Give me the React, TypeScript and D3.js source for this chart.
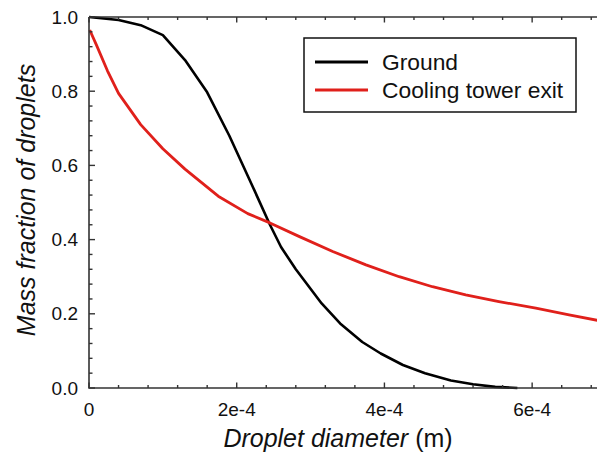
import React, { useEffect, useRef } from 'react';
import * as d3 from 'd3';

// droplet diameter in units of 1e-4 m
const groundX = [0, 0.4, 0.7, 1.0, 1.3, 1.6, 1.9, 2.2, 2.45, 2.6, 2.8, 3.15, 3.4, 3.7, 3.95, 4.25, 4.55, 4.9, 5.2, 5.5, 5.8];
const groundY = [1.0, 0.992, 0.978, 0.951, 0.884, 0.797, 0.68, 0.55, 0.44, 0.38, 0.32, 0.228, 0.174, 0.124, 0.093, 0.062, 0.04, 0.02, 0.01, 0.003, 0.0];

const towerX = [0.01, 0.1, 0.25, 0.4, 0.7, 1.0, 1.3, 1.75, 2.15, 2.45, 2.85, 3.3, 3.75, 4.2, 4.65, 5.1, 5.55, 6.05, 6.5, 7.0];
const towerY = [0.965, 0.925, 0.855, 0.794, 0.71, 0.645, 0.59, 0.517, 0.47, 0.445, 0.408, 0.368, 0.332, 0.3, 0.273, 0.251, 0.233, 0.215, 0.197, 0.178];

const xTicks = [0, 2e-4, 4e-4, 6e-4];
const xTickLabels = ['0', '2e-4', '4e-4', '6e-4'];
const yTicks = [0, 0.2, 0.4, 0.6, 0.8, 1.0];
const seriesNames = ['Ground', 'Cooling tower exit'];
const seriesColors = ['#000000', '#e0201b'];

const W = 597, H = 455;

export default function App() {
  const ref = useRef<SVGSVGElement>(null);

  useEffect(() => {
    const svg = d3.select(ref.current);
    svg.selectAll('*').remove();

    const left = 89, right = 606, top = 17, bottom = 388;
    const x = d3.scaleLinear().domain([0, 7e-4]).range([left, right]);
    const y = d3.scaleLinear().domain([0, 1]).range([bottom, top]);
    const font = 'Arial, "Liberation Sans", sans-serif';

    const g = svg.append('g');

    // curves
    const line = d3.line<[number, number]>()
      .x(d => x(d[0] * 1e-4))
      .y(d => y(d[1]));
    const series: [number, number][][] = [
      groundX.map((v, i) => [v, groundY[i]]),
      towerX.map((v, i) => [v, towerY[i]]),
    ];
    series.forEach((s, i) => {
      g.append('path')
        .attr('d', line(s))
        .attr('fill', 'none')
        .attr('stroke', seriesColors[i])
        .attr('stroke-width', i === 0 ? 2.6 : 2.8)
        .attr('stroke-linejoin', 'round');
    });

    // frame
    const axisColor = '#333';
    g.append('path')
      .attr('d', `M${left},${top}V${bottom}H${right}M${left},${top}H${right}`)
      .attr('fill', 'none')
      .attr('stroke', axisColor)
      .attr('stroke-width', 1.6);

    // x ticks (bottom and top, pointing inward)
    const xMinor = d3.range(0, 7.01e-4, 0.4e-4);
    xMinor.forEach(v => {
      const major = xTicks.some(t => Math.abs(t - v) < 1e-9);
      const len = major ? 5.5 : 3;
      g.append('line').attr('x1', x(v)).attr('x2', x(v))
        .attr('y1', bottom).attr('y2', bottom - len)
        .attr('stroke', axisColor).attr('stroke-width', 1.4);
      g.append('line').attr('x1', x(v)).attr('x2', x(v))
        .attr('y1', top).attr('y2', top + len)
        .attr('stroke', axisColor).attr('stroke-width', 1.4);
    });
    xTicks.forEach((v, i) => {
      g.append('text')
        .attr('x', x(v)).attr('y', 416)
        .attr('text-anchor', 'middle')
        .attr('font-family', font).attr('font-size', 19)
        .attr('fill', '#111')
        .text(xTickLabels[i]);
    });

    // y ticks
    const yMinor = d3.range(0, 1.001, 0.04);
    yMinor.forEach(v => {
      const major = yTicks.some(t => Math.abs(t - v) < 1e-6);
      const len = major ? 6 : 3.5;
      g.append('line').attr('x1', left).attr('x2', left + len)
        .attr('y1', y(v)).attr('y2', y(v))
        .attr('stroke', axisColor).attr('stroke-width', 1.4);
    });
    yTicks.forEach(v => {
      g.append('text')
        .attr('x', 78).attr('y', y(v))
        .attr('dy', '0.35em')
        .attr('text-anchor', 'end')
        .attr('font-family', font).attr('font-size', 19)
        .attr('fill', '#111')
        .text(v.toFixed(1));
    });

    // axis titles
    const xt = g.append('text')
      .attr('x', 338).attr('y', 447)
      .attr('text-anchor', 'middle')
      .attr('font-family', font).attr('font-size', 25)
      .attr('fill', '#111');
    xt.append('tspan').attr('font-style', 'italic').text('Droplet diameter');
    xt.append('tspan').text(' (m)');

    g.append('text')
      .attr('transform', `translate(35,200) rotate(-90)`)
      .attr('text-anchor', 'middle')
      .attr('font-family', font).attr('font-size', 25)
      .attr('font-style', 'italic')
      .attr('fill', '#111')
      .text('Mass fraction of droplets');

    // legend
    const lg = g.append('g');
    lg.append('rect')
      .attr('x', 304).attr('y', 38).attr('width', 272).attr('height', 74)
      .attr('fill', 'white').attr('stroke', '#111').attr('stroke-width', 1.5);
    seriesNames.forEach((name, i) => {
      const ly = 62 + i * 28;
      lg.append('line')
        .attr('x1', 315).attr('x2', 368).attr('y1', ly).attr('y2', ly)
        .attr('stroke', seriesColors[i]).attr('stroke-width', 2.8);
      lg.append('text')
        .attr('x', 382).attr('y', ly).attr('dy', '0.35em')
        .attr('font-family', font).attr('font-size', 22.8)
        .attr('fill', '#111')
        .text(name);
    });
  }, []);

  return (
    <div style={{ position: 'absolute', left: 0, top: 0 }}>
      <svg ref={ref} width={W} height={H} style={{ display: 'block', background: 'white' }} />
    </div>
  );
}
